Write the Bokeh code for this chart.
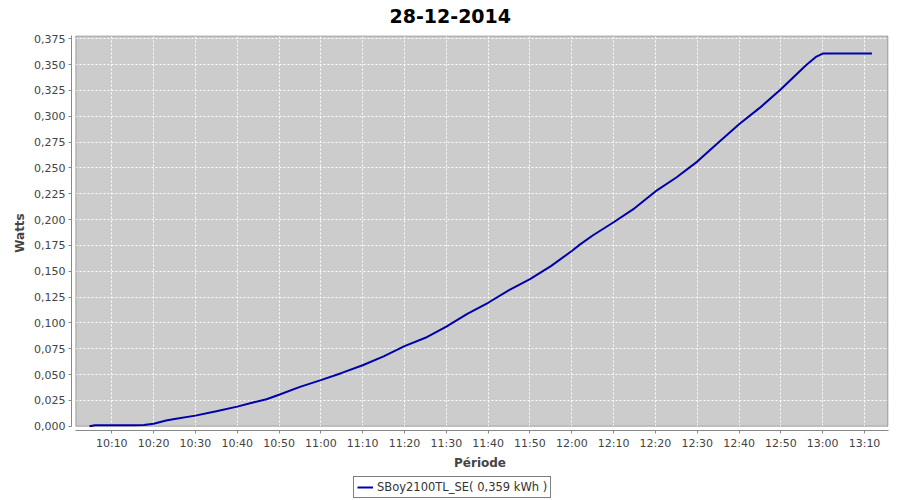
import pandas as pd
from bokeh.plotting import figure
from bokeh.layouts import column
from bokeh.models import (Range1d, FixedTicker, DatetimeTickFormatter, CustomJSTickFormatter,
                          BoxAnnotation, Legend, LegendItem, Title)
from bokeh.embed import file_html
from bokeh.resources import INLINE

DAY = "2014-12-28 "
title_text = "28-12-2014"
series_name = "SBoy2100TL_SE( 0,359 kWh )"
x_label = "Période"
y_label = "Watts"

times = ["10:04:40", "10:06:00", "10:10:00", "10:15:00", "10:17:40", "10:20:00", "10:23:00",
         "10:25:00", "10:30:00", "10:35:00", "10:40:00", "10:44:00", "10:47:00", "10:50:00",
         "10:55:00", "11:00:00", "11:05:00", "11:10:00", "11:15:00", "11:20:00", "11:25:00",
         "11:30:00", "11:35:00", "11:40:00", "11:45:00", "11:50:00", "11:55:00", "12:00:00",
         "12:02:00", "12:05:00", "12:10:00", "12:15:00", "12:20:00", "12:25:00", "12:30:00",
         "12:35:00", "12:40:00", "12:45:00", "12:50:00", "12:53:00", "12:56:00", "12:58:30",
         "13:00:00", "13:05:00", "13:10:00", "13:11:46"]
energy = [0.000, 0.001, 0.001, 0.001, 0.0012, 0.0025, 0.0055,
          0.0070, 0.0103, 0.0145, 0.0190, 0.0232, 0.0262, 0.0305,
          0.0381, 0.0446, 0.0516, 0.0590, 0.0676, 0.0776, 0.0856,
          0.0965, 0.1088, 0.1195, 0.1317, 0.1423, 0.1549, 0.1696,
          0.1760, 0.1846, 0.1974, 0.2109, 0.2272, 0.2407, 0.2561,
          0.2744, 0.2922, 0.3083, 0.3260, 0.3377, 0.3494, 0.3577,
          0.3606, 0.3606, 0.3606, 0.3606]

x_tick_labels = ["10:10", "10:20", "10:30", "10:40", "10:50", "11:00", "11:10", "11:20",
                 "11:30", "11:40", "11:50", "12:00", "12:10", "12:20", "12:30", "12:40",
                 "12:50", "13:00", "13:10"]
y_ticks = [0.000, 0.025, 0.050, 0.075, 0.100, 0.125, 0.150, 0.175, 0.200, 0.225,
           0.250, 0.275, 0.300, 0.325, 0.350, 0.375]

x = pd.to_datetime([DAY + t for t in times], format="%Y-%m-%d %H:%M:%S")
x_tick_ms = [int(v) // 10**6 for v in
             pd.to_datetime([DAY + t for t in x_tick_labels], format="%Y-%m-%d %H:%M").asi8]

x_axis_start = pd.Timestamp(DAY + "10:00:22")
x_area_start = pd.Timestamp(DAY + "10:01:24")
x_end = pd.Timestamp(DAY + "13:15:44")
y_axis_start = -0.0041
y_top = 0.3781

FONT = "DejaVu Sans"
LINE_COLOR = "#0000aa"

p = figure(width=900, height=472, x_axis_type="datetime",
           x_range=Range1d(x_axis_start, x_end), y_range=Range1d(y_axis_start, y_top),
           output_backend="svg", toolbar_location=None,
           min_border_left=71, min_border_right=12, min_border_top=35, min_border_bottom=41,
           background_fill_color="white", border_fill_color="white", outline_line_color=None)

# spacer between frame and title, then the title itself
p.add_layout(Title(text=" ", text_font=FONT, text_font_size="8px", standoff=0), "above")
p.add_layout(Title(text=title_text, align="left", offset=318, text_font=FONT,
                   text_font_size="19px", text_font_style="bold", text_color="black",
                   vertical_align="top", standoff=0), "above")

# grey plot area and its black border
p.add_layout(BoxAnnotation(left=x_area_start, right=x_end, bottom=0, top=y_top,
                           fill_color="#cccccc", fill_alpha=1.0, line_color=None, level="image"))

r = p.line(x, energy, line_color=LINE_COLOR, line_width=2)

p.add_layout(BoxAnnotation(left=x_area_start, right=x_end - pd.Timedelta(seconds=8), bottom=0,
                           top=y_top - 0.0004, fill_color=None, line_color="black",
                           line_width=1, level="guide"))

for g in (p.xgrid, p.ygrid):
    g.grid_line_color = "white"
    g.grid_line_dash = "2 2"
    g.grid_line_width = 1

p.xaxis.ticker = FixedTicker(ticks=x_tick_ms)
p.xaxis.formatter = DatetimeTickFormatter(minutes="%H:%M", hourmin="%H:%M", hours="%H:%M",
                                          minsec="%H:%M", seconds="%H:%M")
p.yaxis.ticker = FixedTicker(ticks=y_ticks)
p.yaxis.formatter = CustomJSTickFormatter(code="return tick.toFixed(3).replace('.', ',');")
p.xaxis.bounds = (x_area_start, x_end)
p.yaxis.bounds = (0, y_top)
p.xgrid.ticker = p.xaxis.ticker
p.ygrid.ticker = p.yaxis.ticker

for ax in (p.xaxis, p.yaxis):
    ax.axis_line_color = "#888888"
    ax.major_tick_line_color = "#888888"
    ax.major_tick_out = 3
    ax.major_tick_in = 0
    ax.minor_tick_line_color = None
    ax.major_label_text_font = FONT
    ax.major_label_text_font_size = "11px"
    ax.major_label_text_color = "#444444"
    ax.axis_label_text_font = FONT
    ax.axis_label_text_font_size = "12px"
    ax.axis_label_text_font_style = "bold"
    ax.axis_label_text_color = "#444444"
    ax.major_label_standoff = 3
    ax.axis_label_standoff = 3

p.xaxis.axis_label = x_label
p.yaxis.axis_label = y_label
p.yaxis.axis_label_standoff = 4

# legend strip below the chart (its frame is aligned with the chart's frame)
lg = figure(width=900, height=28, output_backend="svg", toolbar_location=None,
            x_range=Range1d(0, 1), y_range=Range1d(0, 1),
            x_axis_location=None, y_axis_location=None,
            min_border_left=0, min_border_right=0, min_border_top=0, min_border_bottom=0,
            background_fill_color="white", border_fill_color="white", outline_line_color=None)
lg.grid.visible = False
# off-range proxy line, only used for the legend swatch
r_leg = lg.line(x=[-3, -2], y=[-3, -3], line_color=LINE_COLOR, line_width=2)

legend = Legend(items=[LegendItem(label=series_name, renderers=[r_leg])],
                location=(282, 2), orientation="horizontal", margin=0, padding=3,
                border_line_color="black", border_line_width=1,
                background_fill_color="white", background_fill_alpha=1.0,
                label_text_font=FONT, label_text_font_size="11.5px",
                label_text_color="#333333", glyph_width=16, glyph_height=14,
                label_height=14, label_standoff=4, spacing=0)
lg.add_layout(legend, "center")

layout = column(p, lg, spacing=0)
open("out.html", "w").write(file_html(layout, INLINE))
